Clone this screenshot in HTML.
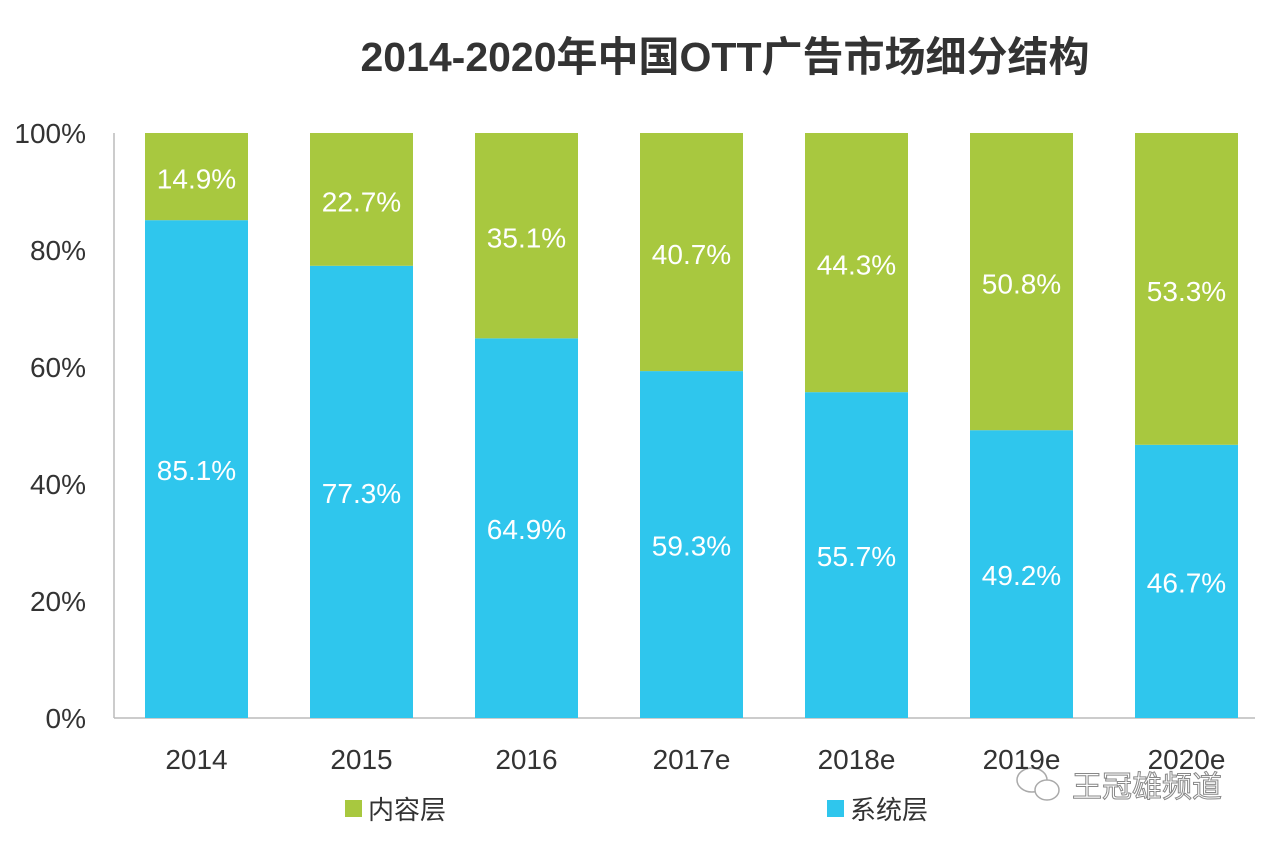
<!DOCTYPE html>
<html><head><meta charset="utf-8"><style>
html,body{margin:0;padding:0;background:#fff;}
svg{display:block;font-family:"Liberation Sans","Noto Sans CJK SC",sans-serif;}
</style></head><body>
<svg id="chart" width="1268" height="841" viewBox="0 0 1268 841">
<text x="725" y="71" text-anchor="middle" font-size="41" font-weight="bold" fill="#333">2014-2020年中国OTT广告市场细分结构</text>
<line x1="114" y1="133" x2="114" y2="718" stroke="#bbb" stroke-width="1.5"/>
<line x1="114" y1="718" x2="1255" y2="718" stroke="#bbb" stroke-width="1.5"/>
<g id="bars"></g>
<g>
<rect x="345" y="800" width="17" height="17" fill="#a8c83f"/>
<text x="368" y="819" font-size="26" fill="#333">内容层</text>
<rect x="827" y="800" width="17" height="17" fill="#2fc6ed"/>
<text x="850" y="819" font-size="26" fill="#333">系统层</text>
</g>
<g>
<ellipse cx="1032" cy="780" rx="15" ry="12" fill="#fff" stroke="#aaa" stroke-width="1.5"/>
<ellipse cx="1047" cy="790" rx="12" ry="10" fill="#fff" stroke="#aaa" stroke-width="1.5"/>
<text x="1072" y="797" font-size="30" fill="#fff" stroke="#888" stroke-width="1">王冠雄频道</text>
</g>
</svg>
<script>
const categories=["2014","2015","2016","2017e","2018e","2019e","2020e"];
const systemValues=[85.1,77.3,64.9,59.3,55.7,49.2,46.7];
const contentValues=[14.9,22.7,35.1,40.7,44.3,50.8,53.3];
const yTicks=[0,20,40,60,80,100];
const NS="http://www.w3.org/2000/svg";
const svg=document.getElementById('chart');
const g=document.getElementById('bars');
const y=v=>718-v*5.85;
const xc=i=>196.5+i*165;
const bw=103;
function mk(tag,attrs,parent){const e=document.createElementNS(NS,tag);for(const k in attrs)e.setAttribute(k,attrs[k]);parent.appendChild(e);return e;}
yTicks.forEach(t=>{
  const e=mk('text',{x:86,y:y(t)+10,'text-anchor':'end','font-size':28,fill:'#333'},svg);
  e.textContent=t+'%';
  
  
});
categories.forEach((c,i)=>{
  const s=systemValues[i],ct=contentValues[i];
  const b=mk('rect',{x:xc(i)-bw/2,y:y(s),width:bw,height:y(0)-y(s),fill:'#2fc6ed'},g);
  
  
  const b2=mk('rect',{x:xc(i)-bw/2,y:y(s+ct),width:bw,height:y(s)-y(s+ct),fill:'#a8c83f'},g);
  
  
  const l1=mk('text',{x:xc(i),y:(y(0)+y(s))/2+11,'text-anchor':'middle','font-size':28,fill:'#fff'},g);
  l1.textContent=s.toFixed(1)+'%';
  
  
  const l2=mk('text',{x:xc(i),y:(y(s)+y(s+ct))/2+12,'text-anchor':'middle','font-size':28,fill:'#fff'},g);
  l2.textContent=ct.toFixed(1)+'%';
  
  
  const xl=mk('text',{x:xc(i),y:769,'text-anchor':'middle','font-size':28,fill:'#333'},svg);
  xl.textContent=c;
  
  
});
</script>
</body></html>
